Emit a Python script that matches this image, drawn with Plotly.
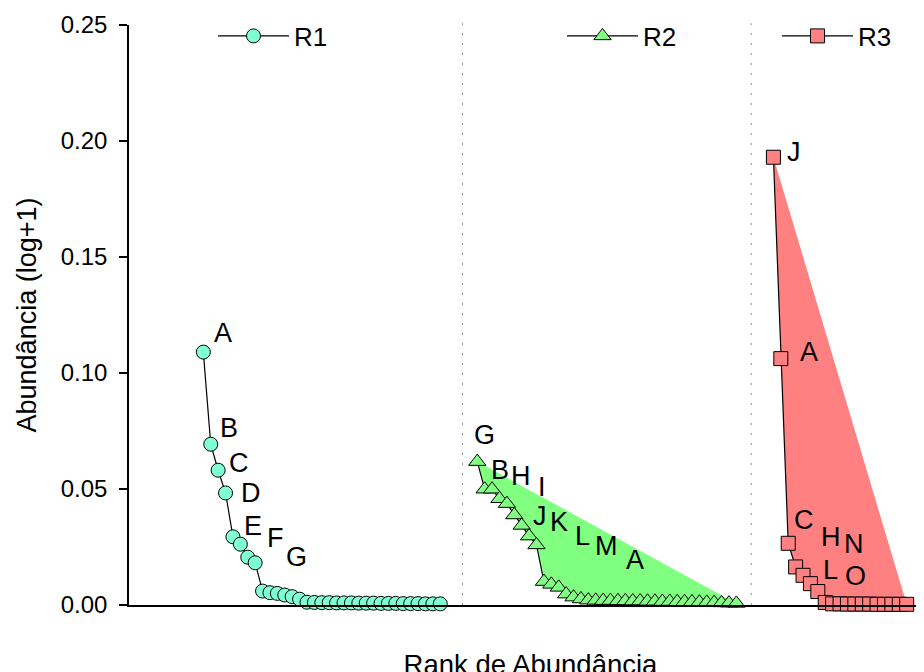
import plotly.graph_objects as go

# ---------------- data ----------------
series_names = ["R1", "R2", "R3"]

r1_values = [0.109, 0.0693, 0.0581, 0.0483, 0.0294, 0.0262, 0.0206, 0.0182,
             0.0060, 0.0053, 0.0050, 0.0043, 0.0036, 0.0025,
             0.0012, 0.0011, 0.0010, 0.0010, 0.0009, 0.0009, 0.0009, 0.0008,
             0.0008, 0.0008, 0.0007, 0.0007, 0.0007, 0.0006, 0.0006, 0.0006,
             0.0005, 0.0005, 0.0005]
r2_values = [0.0618, 0.0499, 0.0499, 0.0458, 0.0437, 0.0388, 0.0343, 0.0297,
             0.0259, 0.0101, 0.0089, 0.0076, 0.0047, 0.0034, 0.0026,
             0.0021, 0.0020, 0.0019, 0.0019, 0.0018, 0.0018, 0.0017, 0.0017,
             0.0016, 0.0016, 0.0015, 0.0015, 0.0014, 0.0014, 0.0013, 0.0012,
             0.0011, 0.0010, 0.0009, 0.0008, 0.0007]
r3_values = [0.193, 0.1062, 0.0266, 0.0164, 0.0128, 0.0092, 0.0058, 0.0011,
             0.0005, 0.0005, 0.0004, 0.0004, 0.0004, 0.0004, 0.0003, 0.0003,
             0.0003, 0.0003, 0.0003]

rank_starts = [1, 38, 78]
separators = [36, 75]

r1_labels = ["A", "B", "C", "D", "E", "F", "G"]
r2_labels = ["G", "B", "H", "I", "J", "K", "L", "M", "A"]
r3_labels = ["J", "A", "C", "H", "N", "L", "O"]

y_ticks = [0.0, 0.05, 0.10, 0.15, 0.20, 0.25]

# ---------------- style ----------------
FONT = "Arial, Liberation Sans, sans-serif"
marker_colors = ["#80FFD4", "#80FF80", "#FF8080"]
fill_colors = [None, "#80FF80", "#FF8080"]
symbols = ["circle", "triangle-up", "square"]
marker_sizes = [14, 15, 14]
# label pixel offsets (dx right, dy down) relative to the labelled point
label_offsets = [
    [(20, -19), (18, -16), (21, -7), (25, 0), (20, -11), (35, -6), (49, 0)],
    [(7, -27), (15, -19), (29, -13), (43, -12), (33, 12), (45, 7), (61, 11), (77, 10), (98, 15)],
    [(21, -5), (28, -7), (16, -23), (35, -30), (51, -31), (20, -14), (38, -16)],
]
legend_x_px = [205, 554, 769]
legend_y_px = 28

all_values = [r1_values, r2_values, r3_values]
all_labels = [r1_labels, r2_labels, r3_labels]

fig = go.Figure()

for i, (name, vals) in enumerate(zip(series_names, all_values)):
    xs = [rank_starts[i] + k for k in range(len(vals))]
    if fill_colors[i]:
        fig.add_trace(go.Scatter(
            x=xs, y=vals, mode="lines", fill="toself",
            fillcolor=fill_colors[i], line=dict(width=0, color=fill_colors[i]),
            showlegend=False, hoverinfo="skip", cliponaxis=False))
    leg = "legend" if i == 0 else f"legend{i+1}"
    fig.add_trace(go.Scatter(
        x=xs, y=vals, mode="lines+markers", name=name,
        line=dict(color="black", width=1.2),
        marker=dict(symbol=symbols[i], size=marker_sizes[i], color=marker_colors[i],
                    line=dict(color="black", width=1)),
        cliponaxis=False, legend=leg))
    for lab, (dx, dy), xv, yv in zip(all_labels[i], label_offsets[i], xs, vals):
        fig.add_annotation(x=xv, y=yv, text=lab, showarrow=False,
                           xshift=dx, yshift=-dy, xanchor="center", yanchor="middle",
                           font=dict(family=FONT, size=27, color="black"))

for s in separators:
    fig.add_shape(type="line", x0=s, x1=s, y0=0, y1=1.003, xref="x", yref="paper",
                  line=dict(color="#8a8a8a", width=1, dash="2px,8px"), layer="below")

legend_common = dict(orientation="h", xref="container", yref="container",
                     xanchor="left", yanchor="middle", bgcolor="rgba(0,0,0,0)",
                     borderwidth=0, itemwidth=71,
                     font=dict(family=FONT, size=26, color="black"))

fig.update_layout(
    width=924, height=672,
    margin=dict(l=121, r=0, t=17, b=75, autoexpand=False),
    plot_bgcolor="white", paper_bgcolor="white",
    font=dict(family=FONT, color="black"),
    legend=dict(x=legend_x_px[0] / 924, y=1 - legend_y_px / 672, **legend_common),
    legend2=dict(x=legend_x_px[1] / 924, y=1 - legend_y_px / 672, **legend_common),
    legend3=dict(x=legend_x_px[2] / 924, y=1 - legend_y_px / 672, **legend_common),
    xaxis=dict(range=[-9.04, 99.42], showgrid=False, zeroline=False,
               showline=True, linecolor="black", linewidth=1.5,
               showticklabels=False, ticks="", automargin=False,
               title=dict(text="Rank de Abundância", standoff=51,
                          font=dict(family=FONT, size=27.5, color="black"))),
    yaxis=dict(range=[0, 0.25], showgrid=False, zeroline=False,
               showline=True, linecolor="black", linewidth=1.5, automargin=False,
               tickvals=y_ticks, tickformat=".2f", ticks="outside", ticklen=8,
               tickwidth=1.5, tickcolor="black", ticklabelstandoff=7,
               tickfont=dict(family=FONT, size=24, color="black"),
               title=dict(text="Abundância (log+1)", standoff=16,
                          font=dict(family=FONT, size=27, color="black"))),
)

fig.write_html("out.html")
